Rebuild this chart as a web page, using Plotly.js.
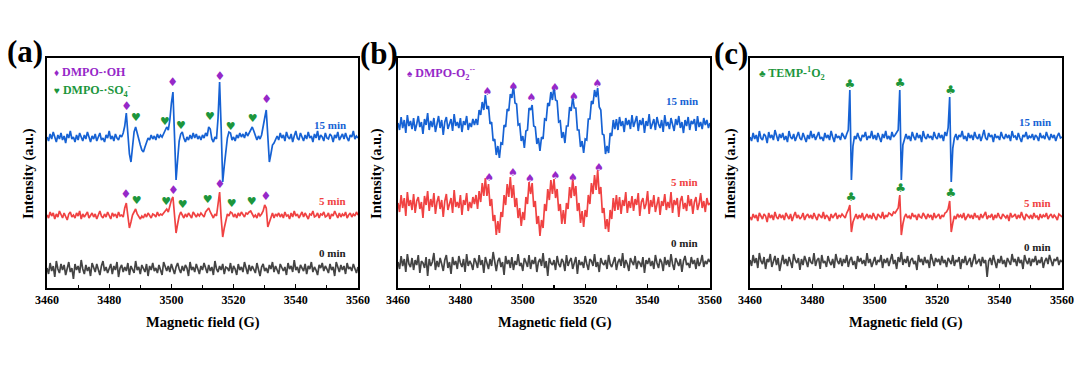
<!DOCTYPE html>
<html>
<head>
<meta charset="utf-8">
<script src="https://cdn.plot.ly/plotly-3.0.1.min.js"></script>
<style>html,body{margin:0;padding:0;background:#fff;}#chart{width:1080px;height:366px;}</style>
</head>
<body>
<div id="chart"></div>
<script>
// Field sampling of every spectrum (G)
const FIELD_START = 3460;
const FIELD_STEP = 0.5;
const tickValues = [3460, 3480, 3500, 3520, 3540, 3560];
const timeLabels = ["15 min", "5 min", "0 min"];

// (a) DMPO spin trapping of ·OH / SO4·− (stacked spectra, a.u.)
const aSpec15 = [151,147,154,149,156,150,146,153,149,155,148,152,145,154,150,157,149,151,146,153,
148,155,150,147,153,149,156,151,146,152,149,154,147,151,155,148,150,146,153,150,
157,149,152,147,154,150,148,153,151,155,
162,175,158,134,126,140,156,161,154,148,
143,138,136,141,146,150,148,153,149,152,
148,154,150,153,151,155,159,161,158,168,
185,196,152,108,128,147,154,156,150,146,
151,148,153,149,155,150,154,149,152,148,
153,150,155,152,161,159,149,146,151,149,
170,206,160,106,122,140,150,156,155,148,
151,147,153,150,155,151,154,150,156,152,
155,158,161,157,151,148,152,149,153,160,
170,178,150,126,134,143,145,149,152,148,155,
150,153,147,156,151,149,154,146,152,157,150,148,155,151,147,153,149,156,150,152,
146,154,150,157,148,153,151,147,155,150,149,154,152,146,153,150,156,148,151,154,
149,155,150,147,153,151,157,149,152,150];
const aSpec5 = [73,70,76,72,75,69,74,71,77,73,70,75,72,68,74,76,71,73,70,75,
72,77,69,74,71,73,76,70,72,75,71,74,69,73,77,72,70,74,71,76,
73,69,75,72,74,70,76,72,73,71,
80,85,72,60,66,73,76,79,74,71,
69,72,70,74,71,75,72,70,74,73,
71,76,72,74,73,75,77,79,76,82,
88,91,70,55,64,72,76,73,70,74,
71,75,72,70,76,73,71,74,72,75,
73,71,76,78,80,76,72,70,74,72,
84,96,70,51,60,69,74,72,76,75,
71,74,70,75,72,76,73,71,75,74,
76,77,74,71,73,70,75,72,74,77,
83,80,61,66,72,75,70,74,72,75,71,
74,70,76,72,73,69,75,71,77,72,74,70,73,76,71,75,72,69,74,73,
77,71,72,75,70,74,73,76,71,72,75,69,74,72,77,73,70,75,71,74,
72,76,70,73,75,71,74,72,76,73];
const aSpec0 = [20,14,25,17,22,11,27,19,15,24,18,23,13,21,26,16,20,9,24,18,
22,15,28,19,14,23,17,21,12,25,20,16,24,18,13,22,27,17,21,15,
19,24,14,22,18,26,11,20,23,16,21,17,25,13,22,19,15,27,18,21,
14,23,20,16,24,12,22,18,25,17,20,15,23,19,13,26,21,17,22,16,
24,18,14,21,25,19,15,22,17,23,20,12,26,18,21,16,24,19,14,22,
18,25,20,15,23,17,21,13,27,19,16,22,18,24,14,21,20,17,25,15,
22,19,13,24,18,21,16,26,20,14,23,17,22,19,15,25,18,12,21,24,
17,20,15,23,19,26,16,22,18,14,24,20,17,21,13,25,19,22,16,28,
18,21,15,23,20,17,24,14,22,19,26,16,21,18,13,23,20,25,17,22,
19,15,24,18,21,12,26,20,16,23,18,22,14,25,19,21,17,24,20,15,
21];

// (b) DMPO-O2·− spectra
const bSpec15 = [165,158,171,160,168,155,173,162,167,159,170,157,164,172,161,166,154,169,163,175,
158,167,161,170,156,165,172,160,168,153,166,171,159,164,169,157,174,162,166,160,
170,156,167,163,172,158,165,161,169,163,
169,163,178,173,186,178,193,179,182,164,
166,147,149,133,142,130,145,144,163,161,
179,177,194,190,203,185,184,163,164,147,
152,140,157,158,180,178,183,162,161,144,
150,137,151,149,169,168,185,182,196,188,
202,188,187,166,167,150,156,145,162,162,
181,177,191,180,180,158,158,141,147,135,
149,148,169,169,187,184,198,191,200,181,
178,154,153,134,142,135,155,152,168,159,169,
158,171,162,167,156,170,163,168,159,173,
161,166,172,157,168,163,170,155,167,162,174,159,165,169,158,171,164,160,168,156,
173,162,166,159,170,164,157,169,163,172,160,166,155,168,162,171,158,167,164,169,
157,172,161,166,159,170,163,168,160,165];
const bSpec5 = [85,76,93,80,90,72,96,82,88,78,94,75,87,91,79,86,70,92,83,97,
77,89,81,95,74,86,92,79,88,71,87,94,78,84,90,75,98,81,86,80,
93,73,88,83,95,77,86,80,91,84,
93,79,97,86,105,92,110,92,104,82,
89,67,73,53,67,55,76,71,93,83,
104,91,111,90,103,81,90,70,80,62,
76,68,91,84,106,94,105,81,87,64,
72,52,68,60,84,77,99,88,108,94,
109,90,99,77,84,64,78,64,85,79,
101,90,109,92,102,77,85,65,77,61,
78,71,93,84,105,94,113,98,118,94,
101,75,80,59,69,56,78,69,90,77,93,
78,91,74,88,82,96,75,87,80,92,
77,89,83,95,72,86,90,79,84,97,74,88,81,93,76,85,91,73,87,82,
94,78,86,80,96,75,88,83,90,71,87,92,79,85,77,93,82,89,74,86,
91,78,84,95,80,87,76,90,83,85];
const bSpec0 = [26,19,32,22,29,16,34,24,21,30,18,28,23,33,15,27,25,20,31,12,
29,22,26,35,18,27,21,30,24,17,28,33,20,26,14,31,23,27,19,32,
25,21,29,16,34,22,27,24,18,30,26,20,33,23,28,15,31,25,19,29,
22,36,24,17,27,30,21,26,13,32,24,28,20,31,18,27,23,34,22,25,
17,30,26,21,33,19,28,24,31,16,26,29,22,35,20,27,12,30,25,23,
28,18,32,24,21,29,26,17,33,22,27,30,19,25,31,14,28,23,26,20,
32,24,18,29,27,22,34,21,26,16,30,25,23,28,19,33,24,21,27,31,
18,26,29,22,35,20,28,24,17,30,26,23,32,19,27,25,21,31,15,28,
24,30,22,27,19,33,25,20,29,26,17,31,23,28,21,34,24,18,30,26,
22,29,16,27,32,23,25,20,31,24,28,19,30,22,26,33,21,27,24,29,
26];

// (c) TEMP-1O2 spectra
const cSpec15 = [151,147,155,149,153,146,157,150,148,154,152,145,156,150,153,148,158,151,147,154,
150,155,148,152,146,157,151,149,154,147,152,156,150,148,155,151,146,153,149,157,
150,154,148,152,156,149,151,147,155,150,153,148,157,151,146,154,150,152,148,155,
151,149,154,158,198,108,142,152,149,155,150,147,153,151,156,148,152,150,157,149,
153,148,155,151,146,154,150,157,149,152,148,156,151,153,155,158,198,108,143,150,
154,149,152,147,156,151,148,155,150,153,146,157,151,149,154,150,152,148,156,151,
149,155,150,153,147,156,152,160,191,106,140,150,154,148,153,151,157,149,152,147,
155,150,153,148,156,151,149,154,147,152,158,150,148,155,151,153,146,154,150,152,
148,156,151,149,154,150,153,147,157,151,152,148,155,150,146,153,151,156,149,152,
150,154,148,153,151,147,155,150,152,149,156,151,148,154,150,153,147,152,155,150,
151];
const cSpec5 = [71,68,74,70,73,67,75,71,69,74,72,66,75,70,73,68,76,71,69,74,
70,73,68,75,71,69,74,67,72,76,70,73,69,71,75,68,72,74,70,73,
69,75,71,68,74,72,70,76,69,73,71,67,74,70,72,75,69,73,71,74,
72,70,75,78,83,56,66,71,74,69,73,70,75,68,72,74,70,73,69,75,
71,68,74,72,70,76,69,73,71,75,74,72,76,75,78,80,93,53,64,71,
74,70,72,69,75,71,73,68,74,71,70,75,72,69,74,71,73,68,75,70,
72,74,69,73,71,75,76,79,87,56,65,72,69,74,71,73,70,75,68,72,
74,70,73,69,75,71,72,68,74,70,73,76,69,72,71,74,68,73,70,75,
71,69,74,72,70,73,67,75,71,72,74,69,73,70,76,71,68,74,72,70,
73,69,75,71,72,68,74,70,73,71,75,69,72,74,70,73,71,68,74,72,
71];
const cSpec0 = [28,22,33,25,30,20,35,27,24,31,19,29,26,34,21,28,32,23,30,17,
27,33,24,29,22,31,26,20,34,28,25,30,18,29,23,32,27,21,31,26,
24,35,22,28,30,19,33,25,27,21,32,26,23,29,20,34,27,24,30,22,
29,25,33,21,28,31,23,27,19,32,26,30,24,28,22,35,25,29,21,27,
31,23,28,26,33,20,29,25,30,22,27,34,24,28,19,31,26,36,23,29,
25,32,21,28,30,24,27,18,33,26,29,23,31,25,28,20,34,27,22,30,
26,29,23,32,25,28,21,30,27,24,33,22,28,26,31,19,29,25,32,23,
27,30,21,28,34,24,26,29,22,31,25,28,11,27,30,23,33,26,20,29,
25,32,24,28,21,30,27,23,34,26,29,22,31,25,28,19,33,27,24,30,
22,29,26,32,23,28,25,31,20,27,30,24,33,26,22,29,27,31,23,28,
26];

// Peak assignment glyph positions (field, level)
const aOHFields15 = [3485.6, 3500.4, 3515.6, 3530.6];
const aOHLevels15 = [181, 205, 211, 188];
const aOHFields5 = [3485.4, 3500.6, 3515.6, 3530.4];
const aOHLevels5 = [93, 97, 103, 91];
const aSO4Fields15 = [3488.6, 3497.9, 3503.1, 3512.4, 3519.1, 3526.1];
const aSO4Levels15 = [170, 166, 162, 171, 161, 169];
const aSO4Fields5 = [3488.8, 3498.3, 3503.6, 3511.7, 3519.4, 3525.8];
const aSO4Levels5 = [87, 86, 83, 88, 84, 86];
const bO2Fields15 = [3488.7, 3497.0, 3502.8, 3510.3, 3516.4, 3523.9];
const bO2Levels15 = [196, 201, 190, 200, 191, 204];
const bO2Fields5 = [3489.2, 3496.8, 3502.3, 3510.5, 3516.1, 3524.4];
const bO2Levels5 = [110, 115, 109, 112, 110, 120];
const cSOFields15 = [3492.0, 3508.1, 3524.3];
const cSOLevels15 = [203, 204, 197];
const cSOFields5 = [3492.4, 3508.3, 3524.4];
const cSOLevels5 = [90, 99, 94];

const BLUE = 'rgb(22,98,212)', RED = 'rgb(240,66,66)', GREY = 'rgb(68,68,68)';
const PURPLE = 'rgb(150,40,200)', GREEN = 'rgb(28,150,60)';
const SERIF = 'Liberation Serif, Times New Roman, serif';

function spec(y, xa, ya, color) {
  return {type:'scatter', mode:'lines', x0:FIELD_START, dx:FIELD_STEP, y:y,
    xaxis:xa, yaxis:ya, line:{color:color, width:1.7}, hoverinfo:'skip', showlegend:false};
}
function glyphs(fields, levels, glyph, color, xa, ya, size) {
  return {type:'scatter', mode:'text', x:fields, y:levels, text:fields.map(() => glyph),
    textposition:'middle center', textfont:{family:'DejaVu Sans', size:size, color:color},
    xaxis:xa, yaxis:ya, hoverinfo:'skip', showlegend:false, cliponaxis:false};
}

const traces = [
  spec(aSpec0,'x','y',GREY), spec(aSpec5,'x','y',RED), spec(aSpec15,'x','y',BLUE),
  spec(bSpec0,'x2','y2',GREY), spec(bSpec5,'x2','y2',RED), spec(bSpec15,'x2','y2',BLUE),
  spec(cSpec0,'x3','y3',GREY), spec(cSpec5,'x3','y3',RED), spec(cSpec15,'x3','y3',BLUE),
  glyphs(aOHFields15, aOHLevels15, '♦', PURPLE, 'x','y', 12),
  glyphs(aOHFields5, aOHLevels5, '♦', PURPLE, 'x','y', 12),
  glyphs(aSO4Fields15, aSO4Levels15, '♥', GREEN, 'x','y', 11),
  glyphs(aSO4Fields5, aSO4Levels5, '♥', GREEN, 'x','y', 11),
  glyphs(bO2Fields15, bO2Levels15, '♠', PURPLE, 'x2','y2', 11),
  glyphs(bO2Fields5, bO2Levels5, '♠', PURPLE, 'x2','y2', 11),
  glyphs(cSOFields15, cSOLevels15, '♣', GREEN, 'x3','y3', 12),
  glyphs(cSOFields5, cSOLevels5, '♣', GREEN, 'x3','y3', 12)
];

function xAxis(domain, anchor) {
  return {domain:domain, anchor:anchor, range:[3460,3560], tickvals:tickValues,
    ticktext:tickValues.map(String), ticks:'inside', ticklen:4, tickwidth:1.2, tickcolor:'#000',
    minor:{dtick:10, tick0:3460, ticks:'inside', ticklen:3, tickwidth:1.2, tickcolor:'#000'},
    showline:true, linecolor:'#000', linewidth:1.6, mirror:true, showgrid:false, zeroline:false,
    tickfont:{family:SERIF, size:12, color:'#000', weight:'bold'}, fixedrange:true};
}
function yAxis(anchor) {
  return {domain:[0.2131, 0.8415], anchor:anchor, range:[0,230], showticklabels:false, ticks:'',
    showline:true, linecolor:'#000', linewidth:1.6, mirror:true, showgrid:false, zeroline:false, fixedrange:true};
}

const ann = [];
function txt(text, x, y, size, color, opts) {
  ann.push(Object.assign({text:text, x:x, y:y, xref:'paper', yref:'paper', showarrow:false,
    xanchor:'center', yanchor:'middle',
    font:{family:SERIF, size:size, color:color, weight:'bold'}}, opts || {}));
}
const W = 1080, H = 366;
function px(x){ return x / W; } function py(y){ return 1 - y / H; }

// panel letters
txt('(a)', px(25), py(52), 31, '#000');
txt('(b)', px(379), py(54), 31, '#000');
txt('(c)', px(731), py(53), 31, '#000');
// axis titles
[[203,28],[555,376],[906,730]].forEach(p => {
  txt('Magnetic field (G)', px(p[0]), py(322), 14.5, '#000');
  txt('Intensity (a.u.)', px(p[1]), py(174), 14.5, '#000', {textangle:-90});
});
// time labels
const timeColors = [BLUE, RED, '#222'];
const timePos = [[348,[125,201,253]],[700,[101,182,243]],[1053,[122,203,247]]];
timePos.forEach(p => p[1].forEach((y,k) => txt(timeLabels[k], px(p[0]), py(y), 11, timeColors[k], {xanchor:'right'})));
// species legends
txt('<span style="font-size:10px">♦</span> DMPO-·OH', px(52), py(72), 12, PURPLE, {xanchor:'left'});
txt('<span style="font-size:10px">♥</span> DMPO-·SO<sub>4</sub><sup>-</sup>', px(52), py(91), 12, GREEN, {xanchor:'left'});
txt('<span style="font-size:10px">♠</span> DMPO-O<sub>2</sub><sup>·-</sup>', px(405), py(73), 12, PURPLE, {xanchor:'left'});
txt('<span style="font-size:10px">♣</span> TEMP-<sup>1</sup>O<sub>2</sub>', px(757), py(73), 12, GREEN, {xanchor:'left'});

const layout = {
  width:W, height:H, margin:{l:0,r:0,t:0,b:0}, paper_bgcolor:'#fff', plot_bgcolor:'#fff',
  showlegend:false,
  xaxis:xAxis([47/W, 358/W],'y'), yaxis:yAxis('x'),
  xaxis2:xAxis([398/W, 710/W],'y2'), yaxis2:yAxis('x2'),
  xaxis3:xAxis([750/W, 1062/W],'y3'), yaxis3:yAxis('x3'),
  annotations:ann
};
Plotly.newPlot('chart', traces, layout, {staticPlot:true, displayModeBar:false});
</script>
</body>
</html>
